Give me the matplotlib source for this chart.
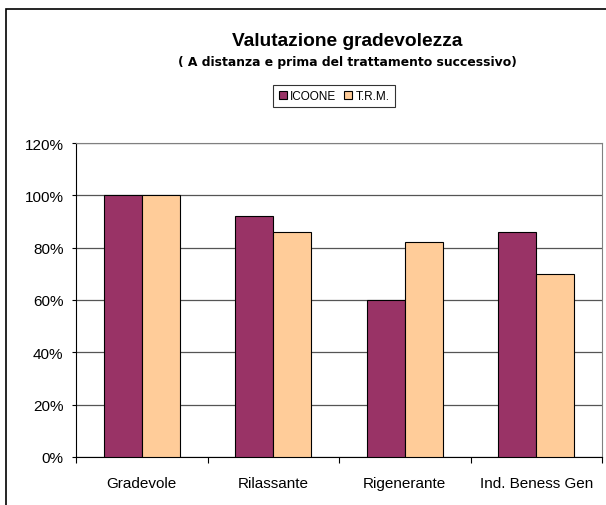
import numpy as np
import matplotlib.pyplot as plt
from matplotlib.patches import Rectangle
from matplotlib.ticker import FuncFormatter

plt.rcParams['font.family'] = ['Liberation Sans', 'DejaVu Sans']

categories = ['Gradevole', 'Rilassante', 'Rigenerante', 'Ind. Beness Gen']
icoone = [100, 92, 60, 86]
trm = [100, 86, 82, 70]
series_names = ['ICOONE', 'T.R.M.']
colors = ['#993366', '#FFCC99']

W, H = 606, 506
fig = plt.figure(figsize=(W / 100, H / 100), dpi=100)

# outer chart border (cropped on right and bottom)
fig.patches.append(Rectangle((6 / W, -0.05), 1.2, 1 - 10 / H + 0.05,
                             transform=fig.transFigure, fill=False,
                             edgecolor='black', linewidth=1.2))

ax = fig.add_axes([76 / W, 1 - 458 / H, 526 / W, 314 / H])

x = np.arange(len(categories))
bw = 0.29
b1 = ax.bar(x - bw / 2, icoone, bw, color=colors[0], edgecolor='black',
            linewidth=0.8, label=series_names[0], zorder=3)
b2 = ax.bar(x + bw / 2, trm, bw, color=colors[1], edgecolor='black',
            linewidth=0.8, label=series_names[1], zorder=3)

ax.set_xlim(-0.5, len(categories) - 0.5)
ax.set_ylim(0, 120)
ax.set_yticks(np.arange(0, 121, 20))
ax.yaxis.set_major_formatter(FuncFormatter(lambda v, p: '{0:.0f}%'.format(v)))
ax.set_xticks(np.arange(len(categories) + 1) - 0.5, minor=False)
ax.set_xticklabels([])
ax.set_xticks(x, minor=True)
ax.set_xticklabels(categories, minor=True)
ax.tick_params(axis='x', which='minor', length=0, pad=14, labelsize=11)
ax.tick_params(axis='x', which='major', length=4, direction='out', width=0.8)
ax.tick_params(axis='y', length=3, direction='out', width=0.8, labelsize=11, pad=6)

ax.grid(axis='y', color='#555555', linewidth=0.9, zorder=0)
for s in ['top', 'right']:
    ax.spines[s].set_color('#808080')
for s in ['left', 'bottom']:
    ax.spines[s].set_color('black')

fig.text(347 / W, 1 - 42 / H, 'Valutazione gradevolezza', ha='center',
         va='center', fontsize=13.8, fontweight='bold')
fig.text(347 / W, 1 - 63 / H, '( A distanza e prima del trattamento successivo)',
         ha='center', va='center', fontsize=8.9, fontweight='bold',
         family='DejaVu Sans')

leg = fig.legend(handles=[b1, b2], labels=series_names, loc='center',
                 bbox_to_anchor=(334 / W, 1 - 97 / H), ncol=2, fontsize=8.5,
                 frameon=True, fancybox=False, edgecolor='black',
                 handlelength=0.7, handleheight=0.7, handletextpad=0.3,
                 columnspacing=0.6, borderpad=0.45, borderaxespad=0)
leg.get_frame().set_linewidth(0.8)

fig.savefig('out.png', dpi=100)
